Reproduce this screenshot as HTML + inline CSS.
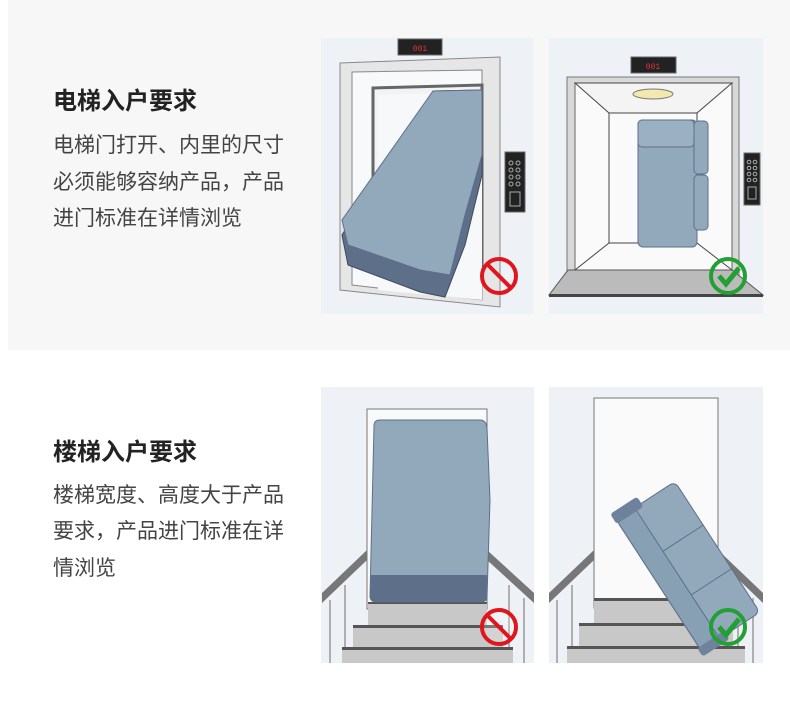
<!DOCTYPE html>
<html><head><meta charset="utf-8"><style>
body{margin:0;background:#fff;width:790px;height:706px;overflow:hidden;font-family:"Liberation Sans","Noto Sans CJK SC",sans-serif}
</style></head><body>
<svg width="790" height="706" viewBox="0 0 790 706" xmlns="http://www.w3.org/2000/svg" style="position:absolute;left:0;top:0">
<rect x="8" y="0" width="782" height="350" fill="#f7f7f7"/>
<g font-family="Liberation Sans, Noto Sans CJK SC, sans-serif">
<text x="53" y="109" font-size="24" font-weight="bold" fill="#222">电梯入户要求</text>
<text x="53" y="152" font-size="21" fill="#444">电梯门打开、内里的尺寸</text>
<text x="53" y="189" font-size="21" fill="#444">必须能够容纳产品，产品</text>
<text x="53" y="225" font-size="21" fill="#444">进门标准在详情浏览</text>
<text x="53" y="460" font-size="24" font-weight="bold" fill="#222">楼梯入户要求</text>
<text x="53" y="502" font-size="21" fill="#444">楼梯宽度、高度大于产品</text>
<text x="53" y="538" font-size="21" fill="#444">要求，产品进门标准在详</text>
<text x="53" y="575" font-size="21" fill="#444">情浏览</text>
</g>
<!-- panel 1 -->
<rect x="321" y="38" width="213" height="276" fill="#eef2f6"/>
<rect x="398" y="39" width="44" height="16" fill="#222" stroke="#666"/>
<text x="420" y="51" font-size="8" fill="#e33" text-anchor="middle" font-family="Liberation Mono, monospace">001</text>
<polygon points="340,63 500,57 500,307 340,290" fill="#e6e6e6" stroke="#888"/>
<polygon points="352,72 482,70 482,300 352,285" fill="#f8f9fb" stroke="#888"/>
<polygon points="373,88 482,85 482,270 373,270" fill="#f3f3f3" stroke="#666" stroke-width="3"/>
<polygon points="378,95 482,92 482,300 378,290" fill="#f6f8fa"/>
<polygon points="433,91 482,90 482,175 465,245 445,297 420,292 348,265 342,235" fill="#5d6f89" stroke="#3c4a5e"/>
<polygon points="433,91 482,90 482,155 465,215 450,275 420,270 348,245 342,220" fill="#92a9bc" stroke="#5d6f89"/>
<rect x="505" y="152" width="20" height="60" fill="#222" stroke="#666"/>
<g fill="none" stroke="#aaa" stroke-width="1"><circle cx="511" cy="163" r="2"/><circle cx="518" cy="163" r="2"/><circle cx="511" cy="170" r="2"/><circle cx="518" cy="170" r="2"/><circle cx="511" cy="177" r="2"/><circle cx="518" cy="177" r="2"/><circle cx="511" cy="184" r="2"/><circle cx="518" cy="184" r="2"/><rect x="510" y="192" width="10" height="14"/></g>
<circle cx="499" cy="276" r="17" fill="none" stroke="#e0161e" stroke-width="4"/>
<line x1="487" y1="264" x2="511" y2="288" stroke="#e0161e" stroke-width="4"/>
<!-- panel 2 -->
<rect x="549" y="38" width="214" height="276" fill="#eef2f6"/>
<rect x="631" y="57" width="45" height="16" fill="#222" stroke="#666"/>
<text x="653" y="69" font-size="8" fill="#e33" text-anchor="middle" font-family="Liberation Mono, monospace">001</text>
<rect x="567" y="77" width="172" height="200" fill="#d8d8d8" stroke="#777"/>
<rect x="575" y="83" width="157" height="187" fill="#fafafa" stroke="#666"/>
<polygon points="575,83 732,83 697,113 609,113" fill="#f4f4f4" stroke="#444"/>
<line x1="575" y1="270" x2="609" y2="243" stroke="#444"/><line x1="732" y1="270" x2="697" y2="243" stroke="#444"/>
<line x1="609" y1="113" x2="609" y2="243" stroke="#444"/><line x1="697" y1="113" x2="697" y2="243" stroke="#444"/>
<line x1="609" y1="243" x2="697" y2="243" stroke="#444"/>
<ellipse cx="653" cy="94" rx="20" ry="5" fill="#f3e9b0" stroke="#777"/>
<rect x="638" y="120" width="59" height="127" rx="5" fill="#92a9bc" stroke="#5d6f89"/>
<rect x="638" y="120" width="56" height="27" rx="4" fill="#9bb0c2" stroke="#5d6f89"/>
<rect x="694" y="121" width="14" height="53" rx="4" fill="#92a9bc" stroke="#5d6f89"/>
<rect x="694" y="175" width="14" height="55" rx="4" fill="#92a9bc" stroke="#5d6f89"/>
<polygon points="568,270 732,270 763,295 549,295" fill="#bbb" stroke="#555"/>
<rect x="549" y="294" width="214" height="3" fill="#444"/>
<rect x="744" y="153" width="16" height="52" fill="#222" stroke="#666"/>
<g fill="none" stroke="#aaa" stroke-width="1"><circle cx="749" cy="162" r="1.8"/><circle cx="755" cy="162" r="1.8"/><circle cx="749" cy="168" r="1.8"/><circle cx="755" cy="168" r="1.8"/><circle cx="749" cy="174" r="1.8"/><circle cx="755" cy="174" r="1.8"/><circle cx="749" cy="180" r="1.8"/><circle cx="755" cy="180" r="1.8"/><rect x="748" y="187" width="8" height="12"/></g>
<circle cx="728" cy="276" r="17" fill="none" stroke="#22a033" stroke-width="4"/>
<polyline points="719,276 726,284 739,268" fill="none" stroke="#22a033" stroke-width="5"/>
<!-- panel 3 -->
<rect x="321" y="387" width="213" height="276" fill="#eef2f6"/>
<rect x="367" y="409" width="120" height="200" fill="#f8f9fb" stroke="#777"/>
<polygon points="322,593 367,550 367,560 322,603" fill="#777"/>
<polygon points="487,550 534,593 534,603 487,560" fill="#777"/>
<g stroke="#999" stroke-width="1.5"><line x1="330" y1="600" x2="330" y2="663"/><line x1="345" y1="585" x2="345" y2="663"/><line x1="509" y1="585" x2="509" y2="663"/><line x1="524" y1="598" x2="524" y2="663"/></g>
<rect x="368" y="602" width="119" height="23" fill="#c8c8c8"/><rect x="368" y="602" width="119" height="2" fill="#555"/>
<rect x="353" y="625" width="150" height="22" fill="#c8c8c8"/><rect x="353" y="625" width="150" height="3" fill="#555"/>
<rect x="342" y="647" width="171" height="16" fill="#c8c8c8"/><rect x="342" y="647" width="171" height="3" fill="#555"/>
<path d="M374,426 Q374,420 380,420 L480,420 Q486,420 487,428 L490,500 L487,597 Q487,602 480,602 L377,602 Q370,602 370,596 Z" fill="#92a9bc" stroke="#5d6f89"/>
<path d="M370,575 L487,575 L487,597 Q487,602 480,602 L377,602 Q370,602 370,596 Z" fill="#5d6f89"/>
<circle cx="499" cy="627" r="17" fill="#fff" fill-opacity="0.2" stroke="#e0161e" stroke-width="4"/>
<line x1="487" y1="615" x2="511" y2="639" stroke="#e0161e" stroke-width="4"/>
<!-- panel 4 -->
<rect x="549" y="387" width="214" height="276" fill="#eef2f6"/>
<rect x="594" y="398" width="124" height="210" fill="#fafafa" stroke="#777"/>
<polygon points="549,593 594,550 594,560 549,603" fill="#777"/>
<polygon points="718,550 763,593 763,603 718,560" fill="#777"/>
<g stroke="#999" stroke-width="1.5"><line x1="557" y1="600" x2="557" y2="663"/><line x1="572" y1="585" x2="572" y2="663"/><line x1="738" y1="585" x2="738" y2="663"/><line x1="753" y1="598" x2="753" y2="663"/></g>
<rect x="594" y="598" width="124" height="25" fill="#c8c8c8"/><rect x="594" y="598" width="124" height="3" fill="#555"/>
<rect x="579" y="623" width="154" height="23" fill="#c8c8c8"/><rect x="579" y="623" width="154" height="3" fill="#555"/>
<rect x="567" y="646" width="178" height="17" fill="#c8c8c8"/><rect x="567" y="646" width="178" height="3" fill="#555"/>
<g transform="translate(688,566) rotate(-33)">
<rect x="-35" y="-78" width="70" height="156" rx="6" fill="#92a9bc" stroke="#5d6f89"/>
<rect x="-35" y="-78" width="22" height="156" rx="5" fill="#88a0b4" stroke="#5d6f89"/>
<line x1="-13" y1="-26" x2="35" y2="-26" stroke="#5d6f89"/><line x1="-13" y1="26" x2="35" y2="26" stroke="#5d6f89"/>
<rect x="-37" y="-86" width="32" height="12" rx="3" fill="#6e829c"/>
<rect x="-37" y="74" width="32" height="10" rx="3" fill="#6e829c"/>
</g>
<circle cx="728" cy="627" r="17" fill="none" stroke="#22a033" stroke-width="4"/>
<polyline points="719,627 726,635 739,619" fill="none" stroke="#22a033" stroke-width="5"/>
</svg>
</body></html>
